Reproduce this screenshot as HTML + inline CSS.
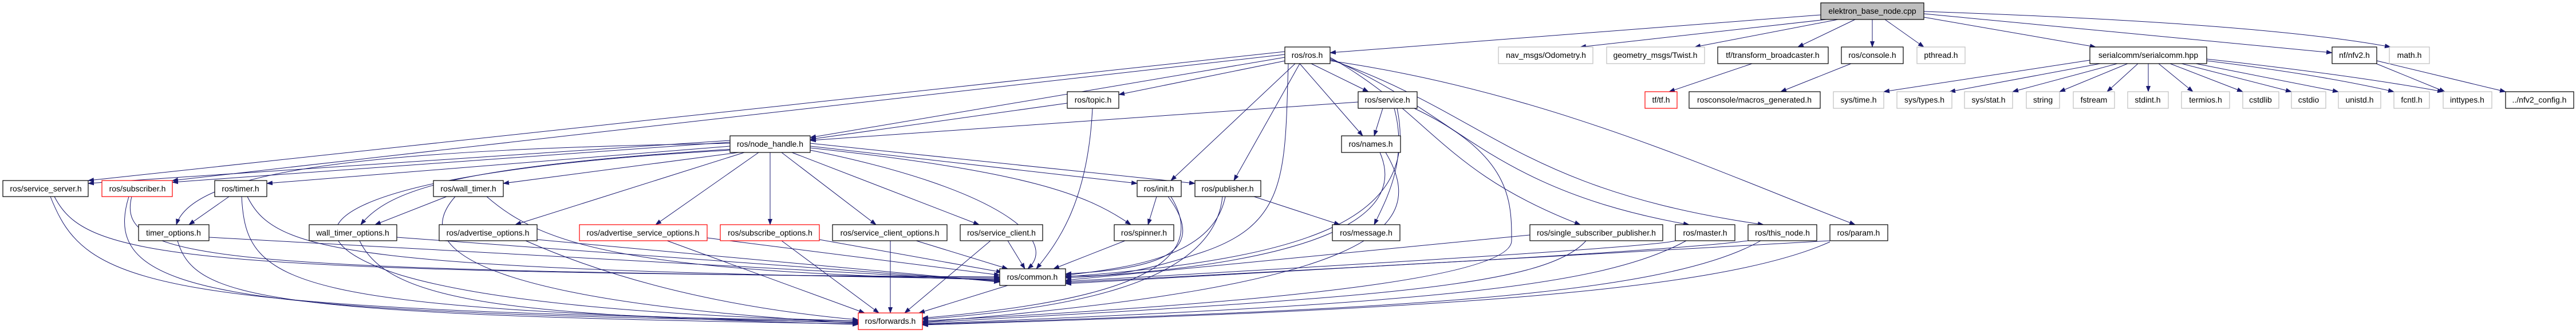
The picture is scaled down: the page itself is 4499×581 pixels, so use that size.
<!DOCTYPE html>
<html><head><meta charset="utf-8"><style>
html,body{margin:0;padding:0;background:#fff;}
svg{display:block;}
text{font-family:"Liberation Sans",sans-serif;font-size:14px;text-anchor:middle;fill:#000;}
.n{fill:#fff;stroke:#000;stroke-width:1.2;}
.g{fill:#fff;stroke:#bfbfbf;stroke-width:1.2;}
.r{fill:#fff;stroke:#ff0000;stroke-width:1.2;}
.e{fill:none;stroke:#191970;stroke-width:1;}
</style></head><body>
<svg width="4499" height="581" viewBox="0 0 4499 581" xmlns="http://www.w3.org/2000/svg">
<defs><marker id="a" markerWidth="11" markerHeight="8" refX="10" refY="4" orient="auto" markerUnits="userSpaceOnUse"><path d="M0,0 L11,4 L0,8 z" fill="#191970"/></marker></defs>
<g class="e" marker-end="url(#a)">
<path d="M3180,26 L2323,92"/>
<path d="M3190,34 L2760,82"/>
<path d="M3210,34 L2960,82"/>
<path d="M3240,34 L3140,82"/>
<path d="M3270,34 L3270,82"/>
<path d="M3292,34 L3360,82"/>
<path d="M3360,30 L3660,82"/>
<path d="M3360,24 L4073,92"/>
<path d="M3360,20 Q3950,40 4175,82"/>
<path d="M3060,111 L2915,160"/>
<path d="M3233,111 L3110,160"/>
<path d="M3650,105 L3290,160"/>
<path d="M3668,111 L3405,160"/>
<path d="M3698,111 L3515,160"/>
<path d="M3716,111 L3597,160"/>
<path d="M3734,111 L3680,160"/>
<path d="M3752,111 L3752,160"/>
<path d="M3770,111 L3830,160"/>
<path d="M3790,111 L3917,160"/>
<path d="M3810,111 L4002,160"/>
<path d="M3835,111 L4084,160"/>
<path d="M3854,106 Q4050,130 4181,160"/>
<path d="M3854,103 Q4100,130 4267,160"/>
<path d="M4150,111 L4270,160"/>
<path d="M4151,106 L4376,160"/>
<path d="M2244,90 L154,315"/>
<path d="M2244,95 L301,315"/>
<path d="M2244,100 L1415,240"/>
<path d="M2250,105 L1954,165"/>
<path d="M2290,111 L2390,160"/>
<path d="M2270,111 L2380,237"/>
<path d="M2262,111 L2045,315"/>
<path d="M2270,111 L2155,315"/>
<path d="M2250,111 C2244,300 2250,390 2100,440 S1900,480 1861,482"/>
<path d="M2323,100 C2500,200 2520,300 2760,392"/>
<path d="M2323,102 C2550,200 2600,330 2950,392"/>
<path d="M2323,104 C2600,200 2650,330 3080,392"/>
<path d="M2323,106 C2700,160 3000,300 3240,392"/>
<path d="M2372,178 L1415,245"/>
<path d="M1864,180 L1415,243"/>
<path d="M1908,189 C1900,350 1850,420 1810,469"/>
<path d="M2415,189 L2400,237"/>
<path d="M2435,189 C2460,280 2420,350 2400,392"/>
<path d="M2440,189 C2480,380 2300,450 1861,483"/>
<path d="M2470,189 C2640,270 2640,350 2640,420 C2640,500 2000,540 1611,560"/>
<path d="M2410,266 C2460,380 2300,460 1861,485"/>
<path d="M2420,266 C2500,400 2400,500 1611,562"/>
<path d="M2190,343 L2340,392"/>
<path d="M1275,245 L154,320"/>
<path d="M1275,248 L301,318"/>
<path d="M1275,255 L466,320"/>
<path d="M1290,266 L879,320"/>
<path d="M1275,250 C700,260 340,290 308,392"/>
<path d="M1280,260 C800,290 680,330 630,392"/>
<path d="M1300,266 L900,392"/>
<path d="M1325,266 L1145,392"/>
<path d="M1345,266 L1345,392"/>
<path d="M1365,266 L1530,392"/>
<path d="M1383,266 L1710,392"/>
<path d="M1415,255 L1986,320"/>
<path d="M1415,250 L2087,320"/>
<path d="M1415,258 C1800,300 1900,340 1975,392"/>
<path d="M1415,262 C1750,330 1850,420 1795,469"/>
<path d="M1275,262 C600,300 450,400 700,480 C900,540 1300,555 1499,560"/>
<path d="M95,343 C150,450 300,475 1746,483"/>
<path d="M88,343 C150,500 250,540 1499,560"/>
<path d="M230,343 C200,460 400,470 1746,485"/>
<path d="M225,343 C170,520 400,545 1499,562"/>
<path d="M400,343 L330,392"/>
<path d="M432,343 C480,440 600,470 1746,487"/>
<path d="M422,343 C430,500 500,540 1499,563"/>
<path d="M780,343 L655,392"/>
<path d="M850,343 C950,430 1100,475 1746,488"/>
<path d="M795,343 C700,450 900,530 1499,564"/>
<path d="M365,414 L1746,490"/>
<path d="M310,420 C340,520 450,550 1499,565"/>
<path d="M693,414 L1746,491"/>
<path d="M628,420 C680,530 900,550 1499,566"/>
<path d="M938,418 L1746,492"/>
<path d="M918,420 C1100,500 1300,540 1499,558"/>
<path d="M1235,415 L1746,480"/>
<path d="M1165,420 L1510,546"/>
<path d="M1431,418 L1750,475"/>
<path d="M1365,420 L1535,546"/>
<path d="M1600,420 L1760,469"/>
<path d="M1555,420 L1555,546"/>
<path d="M1760,420 L1790,469"/>
<path d="M1730,420 L1580,546"/>
<path d="M1965,420 L1840,469"/>
<path d="M2020,343 L2005,392"/>
<path d="M2040,343 C2120,450 2000,470 1861,478"/>
<path d="M2045,343 C2130,480 1900,530 1611,555"/>
<path d="M2140,343 C2120,440 2000,465 1861,480"/>
<path d="M2135,343 C2120,500 1850,540 1611,557"/>
<path d="M1760,498 L1605,546"/>
<path d="M2672,410 L1861,489"/>
<path d="M2770,420 C2700,500 2400,520 1611,563"/>
<path d="M2926,420 C2900,430 2400,460 1861,491"/>
<path d="M2945,420 C2800,500 2500,530 1611,565"/>
<path d="M3053,420 C2900,440 2300,470 1861,493"/>
<path d="M3075,420 C2900,520 2400,540 1611,566"/>
<path d="M3196,420 L1861,495"/>
<path d="M3196,422 C3000,510 2500,540 1611,567"/>
</g>
<g>
<rect x="3180" y="5" width="180" height="29" fill="#bfbfbf" stroke="#000" stroke-width="1.2"/><text x="3270" y="24">elektron_base_node.cpp</text>
<rect class="n" x="2244" y="82" width="79" height="29"/><text x="2283" y="101">ros/ros.h</text>
<rect class="g" x="2617" y="82" width="165" height="29"/><text x="2700" y="101">nav_msgs/Odometry.h</text>
<rect class="g" x="2806" y="82" width="171" height="29"/><text x="2891" y="101">geometry_msgs/Twist.h</text>
<rect class="n" x="3000" y="82" width="193" height="29"/><text x="3096" y="101">tf/transform_broadcaster.h</text>
<rect class="n" x="3216" y="82" width="108" height="29"/><text x="3270" y="101">ros/console.h</text>
<rect class="g" x="3348" y="82" width="84" height="29"/><text x="3390" y="101">pthread.h</text>
<rect class="n" x="3650" y="82" width="204" height="29"/><text x="3752" y="101">serialcomm/serialcomm.hpp</text>
<rect class="n" x="4073" y="82" width="78" height="29"/><text x="4112" y="101">nf/nfv2.h</text>
<rect class="g" x="4173" y="82" width="70" height="29"/><text x="4208" y="101">math.h</text>
<rect class="n" x="1864" y="160" width="90" height="29"/><text x="1909" y="179">ros/topic.h</text>
<rect class="n" x="2372" y="160" width="103" height="29"/><text x="2423" y="179">ros/service.h</text>
<rect class="r" x="2873" y="160" width="56" height="29"/><text x="2901" y="179">tf/tf.h</text>
<rect class="n" x="2950" y="160" width="229" height="29"/><text x="3064" y="179">rosconsole/macros_generated.h</text>
<rect class="g" x="3202" y="160" width="88" height="29"/><text x="3246" y="179">sys/time.h</text>
<rect class="g" x="3313" y="160" width="96" height="29"/><text x="3361" y="179">sys/types.h</text>
<rect class="g" x="3431" y="160" width="84" height="29"/><text x="3473" y="179">sys/stat.h</text>
<rect class="g" x="3539" y="160" width="58" height="29"/><text x="3568" y="179">string</text>
<rect class="g" x="3621" y="160" width="72" height="29"/><text x="3657" y="179">fstream</text>
<rect class="g" x="3716" y="160" width="71" height="29"/><text x="3751" y="179">stdint.h</text>
<rect class="g" x="3810" y="160" width="84" height="29"/><text x="3852" y="179">termios.h</text>
<rect class="g" x="3917" y="160" width="63" height="29"/><text x="3948" y="179">cstdlib</text>
<rect class="g" x="4002" y="160" width="60" height="29"/><text x="4032" y="179">cstdio</text>
<rect class="g" x="4084" y="160" width="74" height="29"/><text x="4121" y="179">unistd.h</text>
<rect class="g" x="4181" y="160" width="62" height="29"/><text x="4212" y="179">fcntl.h</text>
<rect class="g" x="4267" y="160" width="85" height="29"/><text x="4309" y="179">inttypes.h</text>
<rect class="n" x="4376" y="160" width="119" height="29"/><text x="4435" y="179">../nfv2_config.h</text>
<rect class="n" x="1275" y="237" width="140" height="29"/><text x="1345" y="256">ros/node_handle.h</text>
<rect class="n" x="2343" y="237" width="103" height="29"/><text x="2394" y="256">ros/names.h</text>
<rect class="n" x="5" y="315" width="149" height="28"/><text x="80" y="334">ros/service_server.h</text>
<rect class="r" x="178" y="315" width="123" height="28"/><text x="240" y="334">ros/subscriber.h</text>
<rect class="n" x="375" y="315" width="91" height="28"/><text x="420" y="334">ros/timer.h</text>
<rect class="n" x="757" y="315" width="122" height="28"/><text x="818" y="334">ros/wall_timer.h</text>
<rect class="n" x="1986" y="315" width="77" height="28"/><text x="2024" y="334">ros/init.h</text>
<rect class="n" x="2087" y="315" width="115" height="28"/><text x="2144" y="334">ros/publisher.h</text>
<rect class="n" x="242" y="392" width="123" height="28"/><text x="303" y="411">timer_options.h</text>
<rect class="n" x="540" y="392" width="153" height="28"/><text x="616" y="411">wall_timer_options.h</text>
<rect class="n" x="767" y="392" width="171" height="28"/><text x="852" y="411">ros/advertise_options.h</text>
<rect class="r" x="1012" y="392" width="223" height="28"/><text x="1123" y="411">ros/advertise_service_options.h</text>
<rect class="r" x="1258" y="392" width="173" height="28"/><text x="1345" y="411">ros/subscribe_options.h</text>
<rect class="n" x="1454" y="392" width="200" height="28"/><text x="1554" y="411">ros/service_client_options.h</text>
<rect class="n" x="1677" y="392" width="144" height="28"/><text x="1749" y="411">ros/service_client.h</text>
<rect class="n" x="1946" y="392" width="104" height="28"/><text x="1998" y="411">ros/spinner.h</text>
<rect class="n" x="2327" y="392" width="118" height="28"/><text x="2386" y="411">ros/message.h</text>
<rect class="n" x="2672" y="392" width="232" height="28"/><text x="2788" y="411">ros/single_subscriber_publisher.h</text>
<rect class="n" x="2926" y="392" width="104" height="28"/><text x="2978" y="411">ros/master.h</text>
<rect class="n" x="3053" y="392" width="120" height="28"/><text x="3113" y="411">ros/this_node.h</text>
<rect class="n" x="3196" y="392" width="101" height="28"/><text x="3246" y="411">ros/param.h</text>
<rect class="n" x="1746" y="469" width="115" height="29"/><text x="1803" y="488">ros/common.h</text>
<rect class="r" x="1499" y="546" width="112" height="29"/><text x="1555" y="565">ros/forwards.h</text>
</g>
</svg>
</body></html>
